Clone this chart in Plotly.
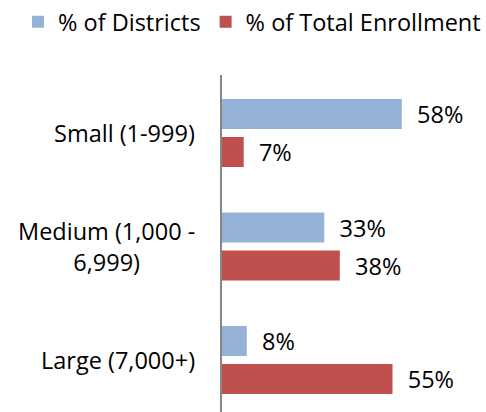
import plotly.graph_objects as go

categories = ["Small (1-999)", "Medium (1,000 - 6,999)", "Large (7,000+)"]
category_labels = ["Small (1-999)", "Medium (1,000 -<br>6,999)", "Large (7,000+)"]
pct_districts = [58, 33, 8]
pct_enrollment = [7, 38, 55]
series_names = ["% of Districts", "% of Total Enrollment"]
colors = ["#95B3D7", "#C0504D"]

FONT = "Open Sans"
FS = 23.5
pad = "\u00a0\u00a0"

W, H = 486, 412
ML, MR, MT, MB = 222, 20, 75, 0
PW, PH = W - ML - MR, H - MT - MB

fig = go.Figure()
for name, vals, col in zip(series_names, [pct_districts, pct_enrollment], colors):
    fig.add_trace(go.Bar(
        y=categories, x=vals, name=name, orientation="h",
        marker=dict(color=col, line=dict(width=0)),
        text=[f"{pad}{v}%" for v in vals],
        textposition="outside", cliponaxis=False, constraintext="none",
        textfont=dict(family=FONT, size=FS, color="#000000"),
        hoverinfo="skip",
    ))

for cat, lab in zip(categories, category_labels):
    fig.add_annotation(
        x=0, xref="paper", xanchor="right", xshift=-25,
        y=cat, yref="y", yanchor="middle",
        text=lab, showarrow=False, align="center",
        font=dict(family=FONT, size=FS, color="#000000"),
    )

fig.update_layout(
    width=W, height=H,
    margin=dict(l=ML, r=MR, t=MT, b=MB, pad=0, autoexpand=False),
    paper_bgcolor="white", plot_bgcolor="white",
    barmode="group", bargap=0.33, bargroupgap=0.21,
    font=dict(family=FONT, size=FS, color="#000000"),
    showlegend=True,
    legend=dict(
        orientation="h", xref="paper", yref="paper",
        x=(18 - ML) / PW, xanchor="left",
        y=(H - MB - 22) / PH, yanchor="middle",
        font=dict(family=FONT, size=FS, color="#000000"),
        traceorder="normal", itemclick=False, itemdoubleclick=False,
        bgcolor="rgba(0,0,0,0)", borderwidth=0,
    ),
    xaxis=dict(range=[0, 78.7], visible=False, fixedrange=True),
    yaxis=dict(
        type="category", categoryorder="array", categoryarray=categories,
        range=[2.458, -0.511], showticklabels=False, ticks="",
        showline=True, linecolor="#868686", linewidth=2,
        showgrid=False, zeroline=False, fixedrange=True,
    ),
)

fig.write_html(
    "out.html",
    config={"displayModeBar": False},
    post_script="document.body.style.margin='0';document.body.style.padding='0';",
)
